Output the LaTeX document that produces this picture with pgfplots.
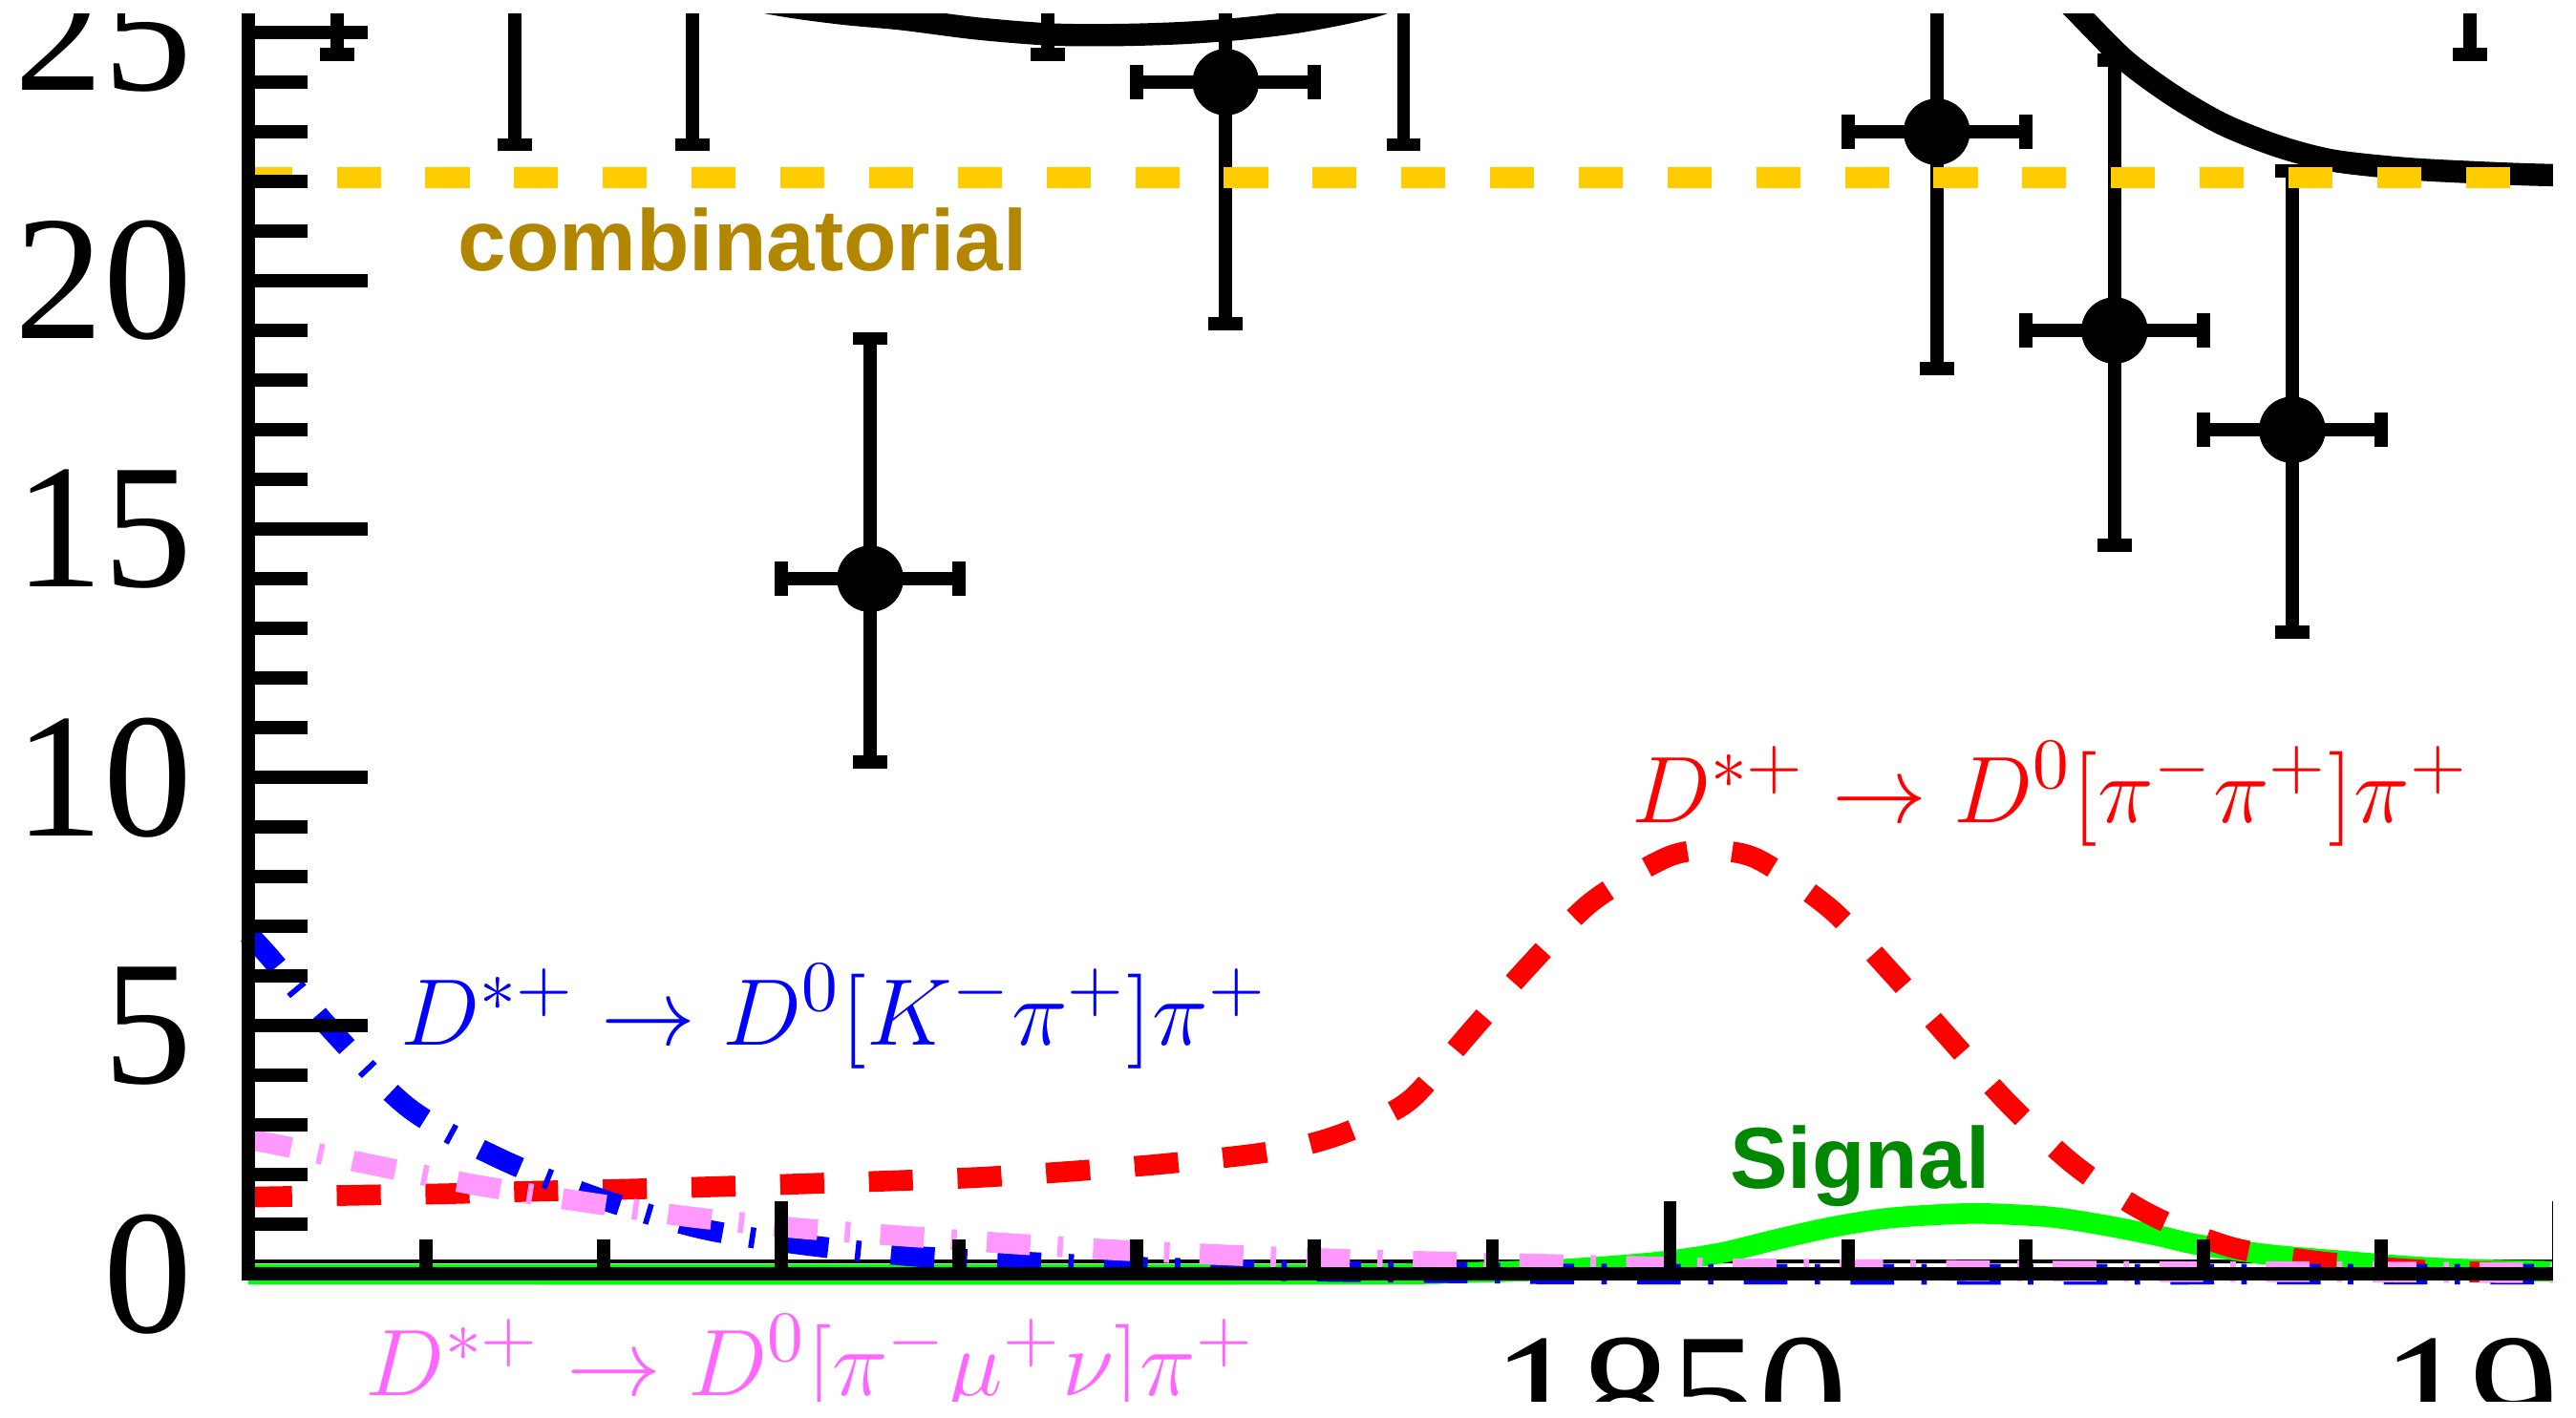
\documentclass[border=0pt]{standalone}
\usepackage{pgfplots}
\pgfplotsset{compat=1.18}
\usepackage{pgfplotstable}
\usepackage{fontspec}
\setmainfont{Liberation Serif}
\newfontfamily\helv{Liberation Sans}
\newfontfamily\tickfont{Liberation Serif}
\definecolor{combline}{HTML}{FFCC00}
\definecolor{combtext}{HTML}{B38600}
\definecolor{sigline}{HTML}{00FF00}
\definecolor{sigtext}{HTML}{008800}
\definecolor{pinkline}{HTML}{FF99FF}
\definecolor{pinktext}{HTML}{FF66FF}

\pgfplotstableread{
x y ex em ep
1775 30 5 5.44 6.55
1785 28 5 5.26 6.36
1795 28 5 5.26 6.36
1805 14 5 3.69 4.84
1815 30 5 5.44 6.55
1825 24 5 4.86 5.97
1835 28 5 5.26 6.36
1865 23 5 4.76 5.87
1875 19 5 4.32 5.44
1885 17 5 4.08 5.21
1895 30 5 5.44 6.55
}\datatab

\begin{document}
\begin{tikzpicture}
\useasboundingbox (-37.75pt,-21.8pt) rectangle (354.25pt,193.95pt);
\clip (-35.5pt,-19.3pt) rectangle (350.75pt,191.775pt);
\begin{axis}[
  at={(0pt,0pt)}, anchor=south west,
  x=2.705pt, y=7.56pt,
  xmin=1770, xmax=1906, ymin=0, ymax=27,
  clip=false, axis on top,
  tick pos=left, tick align=inside,
  xtick=\empty,
  ytick={0,5,10,15,20,25},
  yticklabels={0,5,10,15,20,25},
  minor ytick={1,2,3,4,6,7,8,9,11,12,13,14,16,17,18,19,21,22,23,24,26},
  major tick length=18.25pt, minor tick length=9pt,
  every tick/.style={black, line width=2pt},
  axis line style={line width=2pt},
  /pgf/number format/assume math mode=true,
  yticklabel style={font=\tickfont\fontsize{27}{27}\selectfont, anchor=east, inner sep=0pt, xshift=-8.3pt},
]
% data
\addplot[black, only marks, mark=*, mark size=5pt, mark options={fill=black, draw=black, line width=0.1pt},
  error bars/.cd,
    x dir=both, x explicit,
    y dir=both, y explicit,
    error bar style={line width=2pt, black},
    error mark=-,
    error mark options={rotate=90, draw=black, fill=black, line width=2pt, mark size=2.6pt}]
  table[x=x, y=y, x error=ex, y error plus=ep, y error minus=em] {\datatab};
% total fit, left piece
\addplot[black, line width=3.4pt, smooth, mark=none] coordinates {
(1788,27.0) (1792,26.35) (1796,25.85) (1800,25.55) (1803.5,25.38) (1806.8,25.27)
(1811,25.08) (1815.2,24.96) (1819,24.95) (1822.6,24.99) (1826,25.08) (1829.5,25.24)
(1833.7,25.57) (1836.5,26.1) (1839,26.9) (1842,28.4)};
% total fit, right piece
\addplot[black, line width=3.4pt, smooth, mark=none] coordinates {
(1866,28.5) (1869,26.9) (1871,26.1) (1873,25.37) (1875.6,24.44) (1878.3,23.73)
(1881.1,23.15) (1884.2,22.71) (1887.3,22.42) (1891.4,22.26) (1895.5,22.18)
(1899.4,22.13) (1906,22.10)};
% thin line
\addplot[black, line width=0.6pt, mark=none] coordinates {(1770,0.26) (1906,0.26)};
% signal
\addplot[sigline, line width=3.15pt, smooth, mark=none] coordinates {
(1770,0) (1830,0) (1838,0.03) (1843,0.08) (1847,0.17) (1850,0.27) (1852.9,0.43)
(1856,0.70) (1859,0.94) (1862.1,1.12) (1865.2,1.20) (1867.7,1.22) (1871.4,1.15)
(1874.5,0.98) (1877.5,0.77) (1879.6,0.60) (1883.5,0.40) (1886.6,0.30) (1892.7,0.13)
(1898.9,0.06) (1906,0.03)};
% D*+ -> D0[pi pi] pi
\addplot[red, line width=3.15pt, smooth, mark=none, dash pattern=on 6.7pt off 6.8pt] coordinates {
(1770,1.55) (1776.3,1.59) (1781.3,1.62) (1786.2,1.67) (1791.3,1.71) (1796.2,1.76)
(1801.3,1.82) (1806.3,1.88) (1811.2,1.95) (1816.3,2.07) (1821.2,2.21) (1826.2,2.40)
(1829,2.56) (1831.2,2.78) (1833.5,3.12) (1835.6,3.58) (1838.8,4.89) (1842.1,6.23)
(1845.6,7.50) (1849.8,8.39) (1852.2,8.53) (1854.9,8.36) (1859,7.36) (1862.4,6.09)
(1865.7,4.75) (1869.1,3.41) (1872.8,2.18) (1876.9,1.22) (1881.5,0.55) (1886.4,0.26)
(1892.4,0.08) (1898,0.03) (1906,0.02)};
% D*+ -> D0[K pi] pi
\addplot[blue, line width=3.15pt, smooth, mark=none, dash pattern=on 6.65pt off 4.15pt on 0.83pt off 4.6pt] coordinates {
(1770,6.85) (1771.2,6.39) (1774.8,4.87) (1779.1,3.33) (1784.2,2.32) (1789.8,1.52)
(1795.6,0.91) (1801.3,0.59) (1807.5,0.36) (1813.3,0.25) (1819.2,0.15) (1825.4,0.09)
(1832,0.05) (1840,0.02) (1850,0.0) (1906,0.0)};
% D*+ -> D0[pi mu nu] pi
\addplot[pinkline, line width=3.15pt, smooth, mark=none, dash pattern=on 6.65pt off 4.15pt on 0.83pt off 4.6pt] coordinates {
(1770,2.70) (1771.3,2.63) (1777,2.20) (1782.9,1.79) (1788.8,1.46) (1794.7,1.16)
(1800.8,0.93) (1806.7,0.77) (1812.7,0.62) (1818.6,0.49) (1824.7,0.39) (1830.6,0.31)
(1836.7,0.25) (1842.7,0.20) (1848.5,0.15) (1853.5,0.11) (1861,0.09) (1867,0.07)
(1873,0.06) (1879,0.05) (1885.6,0.05) (1892,0.04) (1898.5,0.03) (1906,0.03)};
% combinatorial
\addplot[combline, line width=3.15pt, mark=none, dash pattern=on 6.7pt off 6.8pt] coordinates {
(1770,22.08) (1906,22.08)};
% labels
\node[anchor=base west, inner sep=0pt, text=combtext, font=\helv\bfseries\fontsize{13.2}{13.2}\selectfont] at (axis cs:1781.75,20.21) {combinatorial};
\node[anchor=base west, inner sep=0pt, text=sigtext, font=\helv\bfseries\fontsize{13.2}{13.2}\selectfont] at (axis cs:1853.3,1.72) {Signal};
\node[anchor=base west, inner sep=0pt, text=red, font=\fontsize{15.1}{15.1}\selectfont] at (axis cs:1847.75,9.09) {$D^{*+}\to D^0[\pi^-\pi^+]\pi^+$};
\node[anchor=base west, inner sep=0pt, text=blue, font=\fontsize{15.1}{15.1}\selectfont] at (axis cs:1778.5,4.62) {$D^{*+}\to D^0[K^-\pi^+]\pi^+$};
\node[anchor=base west, inner sep=0pt, text=pinktext, font=\fontsize{15.1}{15.1}\selectfont] at (axis cs:1776.55,-2.45) {$D^{*+}\to D^0[\pi^-\mu^+\nu]\pi^+$};
\end{axis}
\begin{axis}[
  at={(0pt,0pt)}, anchor=south west,
  x=2.705pt, y=7.56pt,
  xmin=1770, xmax=1906, ymin=0, ymax=27,
  axis line style={draw=none},
  tick pos=left, tick align=inside,
  ytick=\empty,
  xtick={1800,1850,1900},
  xticklabels={,1850,1900},
  minor xtick={1780,1790,1810,1820,1830,1840,1860,1870,1880,1890},
  major tick length=11.15pt, minor tick length=5.25pt,
  every tick/.style={black, line width=2pt},
  xticklabel style={font=\tickfont\fontsize{27}{27}\selectfont, anchor=north, inner sep=0pt, yshift=-9.5pt},
]
\end{axis}
\end{tikzpicture}
\end{document}
